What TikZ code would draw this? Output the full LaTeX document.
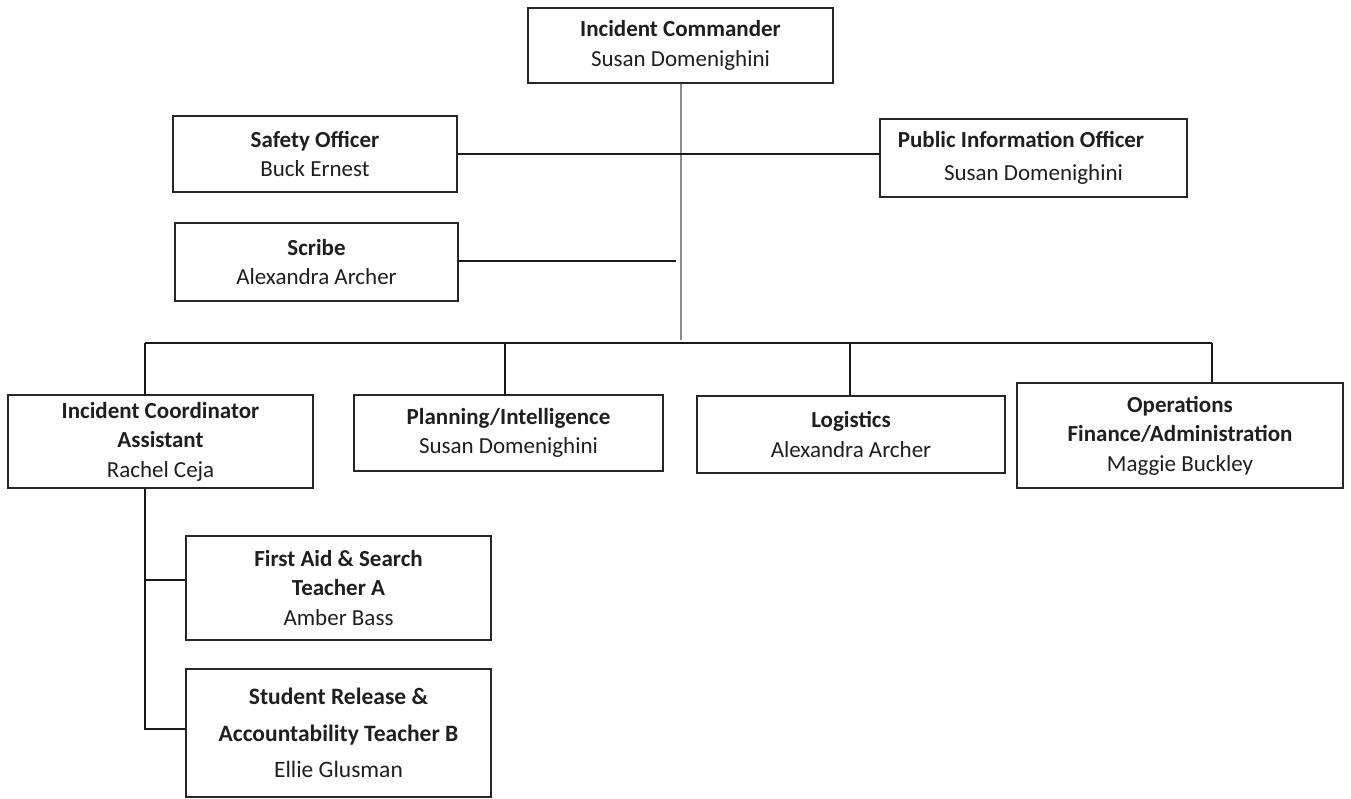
\documentclass[tikz,border=0pt]{standalone}
\usepackage{fontspec}
\setmainfont{Carlito}
\begin{document}
\begin{tikzpicture}[x=1pt,y=-1pt,
  box/.style={draw=black!85, line width=1.3pt, fill=white, align=center, inner sep=0pt,
    text=black!88, font=\fontsize{23}{29.5}\selectfont},
  big/.style={font=\fontsize{23.5}{36.5}\selectfont},
  conn/.style={draw=black!90, line width=1.3pt},
  trunk/.style={draw=black!45, line width=1.1pt}]
\useasboundingbox[fill=white] (0,0) rectangle (1351,798);

\node[box, minimum width=305pt, minimum height=75pt] (ic) at (680.5,45.5)
  {\textbf{Incident Commander}\\Susan Domenighini};
\node[box, minimum width=284pt, minimum height=76pt] (safety) at (315,154)
  {\textbf{Safety Officer}\\Buck Ernest};
\node[box, minimum width=307pt, minimum height=78pt] (pio) at (1033.5,158)
  {\textbf{Public Information Officer}\hspace*{25pt}\\[3pt]Susan Domenighini};
\node[box, minimum width=283pt, minimum height=78pt] (scribe) at (316.5,262)
  {\textbf{Scribe}\\Alexandra Archer};
\node[box, minimum width=305pt, minimum height=93pt] (ica) at (160.5,441.5)
  {\textbf{Incident Coordinator}\\\textbf{Assistant}\\Rachel Ceja};
\node[box, minimum width=309pt, minimum height=76pt] (plan) at (508.5,433)
  {\textbf{Planning/Intelligence}\\Susan Domenighini};
\node[box, minimum width=308pt, minimum height=77pt] (log) at (851,434.5)
  {\textbf{Logistics}\\Alexandra Archer};
\node[box, minimum width=326pt, minimum height=105pt] (ops) at (1180,435.5)
  {\textbf{Operations}\\\textbf{Finance/Administration}\\Maggie Buckley};
\node[box, minimum width=305pt, minimum height=104pt] (fa) at (338.5,588)
  {\textbf{First Aid \& Search}\\\textbf{Teacher A}\\Amber Bass};
\node[box, big, minimum width=305pt, minimum height=128pt] (sr) at (338.5,733)
  {\textbf{Student Release \&}\\\textbf{Accountability Teacher B}\\Ellie Glusman};

% coordinates
\coordinate (icbot) at (681,340);
\coordinate (scribeend) at (676,261);
\coordinate (bl) at (145,343);
\coordinate (bplan) at (505,343);
\coordinate (blog) at (850,343);
\coordinate (br) at (1212,343);
\coordinate (tfa) at (145,580);
\coordinate (tsr) at (145,729);

\draw[trunk] (ic.south -| icbot) -- (icbot);
\draw[conn] (safety.east) -- (safety.east -| pio.west);
\draw[conn] (scribe.east |- scribeend) -- (scribeend);
\draw[conn] (bl) -- (br);
\draw[conn] (bl) -- (bl |- ica.north);
\draw[conn] (bplan) -- (bplan |- plan.north);
\draw[conn] (blog) -- (blog |- log.north);
\draw[conn] (br) -- (br |- ops.north);
\draw[conn] (bl |- ica.south) -- (tsr) -- (tsr -| sr.west);
\draw[conn] (tfa) -- (tfa -| fa.west);
\end{tikzpicture}
\end{document}
